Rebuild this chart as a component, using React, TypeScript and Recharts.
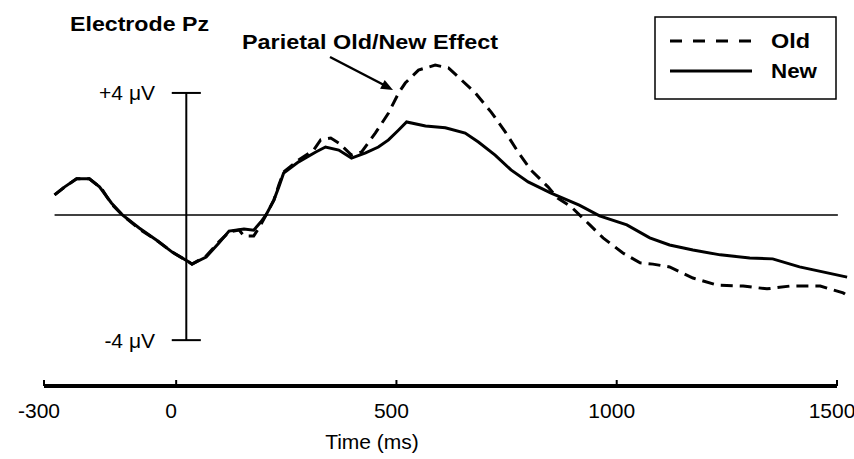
import React from 'react';
import { LineChart, Line, XAxis, YAxis, ReferenceLine } from 'recharts';

// ERP waveforms at Pz (time in ms, amplitude in µV)
const oldTimes = [
  -276, -253, -226, -197, -170, -147, -122, -84, -45, -9, 29, 36, 68, 97, 120, 143, 154, 176, 192, 204,
  222, 233, 244, 278, 312, 328, 351, 369, 398, 421, 452, 482, 505, 520, 550, 588, 618, 640, 679, 715,
  747, 776, 805, 844, 866, 897, 939, 969, 1014, 1053, 1082, 1120, 1173, 1228, 1287, 1341, 1393, 1462, 1514, 1525,
];
const oldValues = [
  0.65, 0.91, 1.17, 1.17, 0.87, 0.36, 0, -0.45, -0.81, -1.2, -1.52, -1.59, -1.33, -0.87, -0.55, -0.49, -0.68, -0.68, -0.32, 0,
  0.49, 0.97, 1.39, 1.78, 2.1, 2.43, 2.49, 2.33, 1.94, 2.04, 2.65, 3.3, 3.95, 4.27, 4.69, 4.85, 4.76, 4.47, 3.95, 3.33,
  2.69, 2.04, 1.46, 0.91, 0.55, 0.26, -0.32, -0.74, -1.23, -1.55, -1.59, -1.68, -2.04, -2.27, -2.3, -2.39, -2.3, -2.3, -2.52, -2.62,
];

const newTimes = [
  -276, -253, -226, -197, -174, -147, -122, -84, -45, -9, 29, 36, 68, 97, 120, 154, 176, 192, 204, 222,
  233, 244, 278, 317, 339, 369, 398, 430, 459, 482, 505, 523, 566, 611, 656, 686, 724, 760, 799, 851,
  915, 961, 1023, 1075, 1120, 1173, 1235, 1302, 1354, 1415, 1523,
];
const newValues = [
  0.65, 0.91, 1.17, 1.17, 0.91, 0.39, 0, -0.42, -0.81, -1.2, -1.52, -1.59, -1.36, -0.91, -0.52, -0.45, -0.49, -0.23, 0, 0.49,
  0.91, 1.36, 1.72, 2.04, 2.2, 2.1, 1.84, 2.01, 2.2, 2.43, 2.75, 3.01, 2.88, 2.82, 2.65, 2.36, 1.94, 1.46, 1.07, 0.71,
  0.32, -0.03, -0.32, -0.74, -0.97, -1.13, -1.29, -1.39, -1.42, -1.68, -2.01,
];

const xTicks = [-300, 0, 500, 1000, 1500];
const seriesNames = ['Old', 'New'];

// calibration bar
const calTime = 23;
const calTop = 3.95;
const calBottom = -4.05;
const calLabels = ['+4 \u03bcV', '-4 \u03bcV'];

const oldData = oldTimes.map((t, i) => ({ t, v: oldValues[i] }));
const newData = newTimes.map((t, i) => ({ t, v: newValues[i] }));

const W = 854;
const H = 459;
const Y_MIN = -5.534;
const Y_MAX = 6.634;
const FONT = '"Liberation Sans", Arial, Helvetica, sans-serif';
const DASH = '12 7';

function TimeTick(props: any) {
  const { x, y, payload } = props;
  return (
    <g>
      <line x1={x} y1={y} x2={x} y2={y - 6} stroke="#000" strokeWidth={2} />
      <text x={x - 5} y={y + 32} textAnchor="middle" fontSize={21} fontFamily={FONT} fill="#000">
        {payload.value}
      </text>
    </g>
  );
}

function Overlay() {
  return (
    <svg
      width={W}
      height={H}
      style={{ position: 'absolute', left: 0, top: 0, pointerEvents: 'none' }}
      fontFamily={FONT}
    >
      <text x={70} y={31} fontSize={20} fontWeight="bold" textLength={139} lengthAdjust="spacingAndGlyphs">
        Electrode Pz
      </text>
      <text x={242} y={49} fontSize={20} fontWeight="bold" textLength={256} lengthAdjust="spacingAndGlyphs">
        Parietal Old/New Effect
      </text>
      {/* arrow to the old/new divergence */}
      <line x1={330} y1={57} x2={384} y2={85} stroke="#000" strokeWidth={2.5} />
      <polygon points="393,90 384.7,80 380.1,88.8" fill="#000" />

      <text x={155} y={100} fontSize={21} textAnchor="end">{calLabels[0]}</text>
      <text x={155} y={348} fontSize={21} textAnchor="end">{calLabels[1]}</text>

      <text x={372} y={449} fontSize={21} textAnchor="middle">Time (ms)</text>

      {/* legend */}
      <rect x={655} y={17} width={181} height={82} fill="#fff" stroke="#000" strokeWidth={1.5} />
      <line x1={670} y1={41} x2={754} y2={41} stroke="#000" strokeWidth={3} strokeDasharray="12 11" />
      <line x1={670} y1={71} x2={752} y2={71} stroke="#000" strokeWidth={3} />
      <text x={771} y={48} fontSize={20} fontWeight="bold" textLength={39} lengthAdjust="spacingAndGlyphs">
        {seriesNames[0]}
      </text>
      <text x={771} y={78} fontSize={20} fontWeight="bold" textLength={46} lengthAdjust="spacingAndGlyphs">
        {seriesNames[1]}
      </text>
    </svg>
  );
}

export default function App() {
  return (
    <div style={{ position: 'absolute', left: 0, top: 0, width: W, height: H, background: '#fff' }}>
      <LineChart width={W} height={H} margin={{ top: 10, right: 6, bottom: 13, left: 44 }}>
        <XAxis
          type="number"
          dataKey="t"
          domain={[-300, 1525]}
          ticks={xTicks}
          axisLine={false}
          tickLine={false}
          tickSize={0}
          tickMargin={0}
          tick={<TimeTick />}
          height={60}
          allowDataOverflow
        />
        <YAxis type="number" hide width={0} domain={[Y_MIN, Y_MAX]} allowDataOverflow />

        {/* x axis line, stops at 1500 ms */}
        <ReferenceLine
          segment={[{ x: -300, y: Y_MIN }, { x: 1500, y: Y_MIN }]}
          stroke="#000"
          strokeWidth={4}
          ifOverflow="visible"
        />
        {/* zero baseline */}
        <ReferenceLine segment={[{ x: -276, y: 0 }, { x: 1502, y: 0 }]} stroke="#000" strokeWidth={1.5} />
        {/* calibration bar */}
        <ReferenceLine segment={[{ x: calTime, y: calTop }, { x: calTime, y: calBottom }]} stroke="#000" strokeWidth={2} />
        <ReferenceLine segment={[{ x: -10, y: calTop }, { x: 56, y: calTop }]} stroke="#000" strokeWidth={2} />
        <ReferenceLine segment={[{ x: -10, y: calBottom }, { x: 56, y: calBottom }]} stroke="#000" strokeWidth={2} />

        <Line
          data={oldData}
          dataKey="v"
          name={seriesNames[0]}
          type="linear"
          stroke="#000"
          strokeWidth={3}
          strokeDasharray={DASH}
          dot={false}
          isAnimationActive={false}
        />
        <Line
          data={newData}
          dataKey="v"
          name={seriesNames[1]}
          type="linear"
          stroke="#000"
          strokeWidth={3}
          dot={false}
          isAnimationActive={false}
        />
      </LineChart>
      <Overlay />
    </div>
  );
}
